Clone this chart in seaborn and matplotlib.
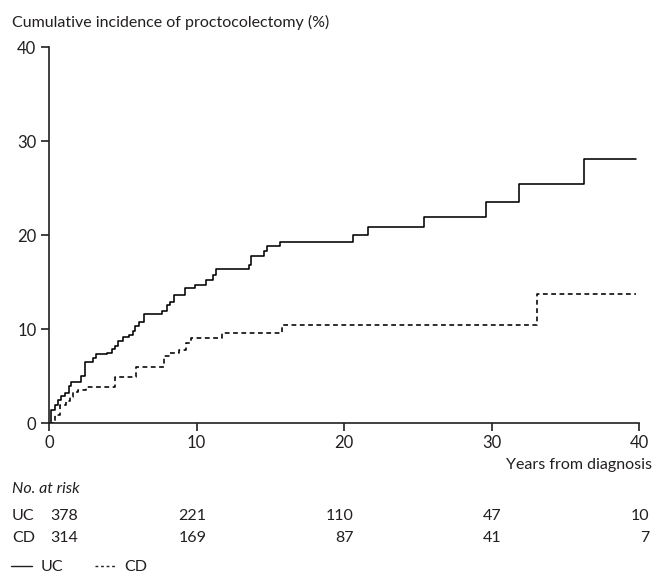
import numpy as np
import pandas as pd
import matplotlib
matplotlib.use("Agg")
import matplotlib.pyplot as plt
import matplotlib.transforms as mtransforms
from matplotlib.lines import Line2D
import seaborn as sns

# ---- data ----
uc_time = [0, 0.16, 0.39, 0.61, 0.84, 1.07, 1.36, 1.52, 2.2, 2.45, 2.95, 3.2, 3.95, 4.25, 4.5,
           4.7, 5.0, 5.4, 5.7, 5.85, 6.1, 6.45, 7.65, 8.0, 8.2, 8.5, 9.2, 9.9, 10.67, 11.12,
           11.35, 13.56, 13.7, 14.55, 14.78, 15.69, 20.6, 21.6, 25.4, 29.65, 31.86, 36.25, 39.8]
uc_inc = [0, 1.4, 1.95, 2.5, 2.9, 3.2, 3.9, 4.4, 5.0, 6.45, 6.9, 7.3, 7.5, 7.9, 8.2,
          8.7, 9.2, 9.4, 9.75, 10.3, 10.7, 11.6, 11.9, 12.6, 12.9, 13.6, 14.4, 14.7, 15.25, 15.7,
          16.4, 16.8, 17.8, 18.25, 18.86, 19.3, 20.0, 20.8, 21.9, 23.5, 25.4, 28.1, 28.1]
cd_time = [0, 0.39, 0.73, 1.18, 1.4, 1.63, 1.97, 2.53, 4.45, 5.93, 7.8, 8.2, 8.8, 9.3, 9.6,
           11.7, 15.8, 33.1, 39.8]
cd_inc = [0, 0.9, 1.95, 2.3, 2.8, 3.25, 3.5, 3.8, 4.85, 6.0, 7.1, 7.4, 7.8, 8.5, 9.0,
          9.6, 10.46, 13.75, 13.75]

groups = ["UC", "CD"]
risk_times = [0, 10, 20, 30, 40]
uc_risk = [378, 221, 110, 47, 10]
cd_risk = [314, 169, 87, 41, 7]
ticks = [0, 10, 20, 30, 40]

df = pd.concat([
    pd.DataFrame({"time": uc_time, "inc": uc_inc, "group": "UC"}),
    pd.DataFrame({"time": cd_time, "inc": cd_inc, "group": "CD"}),
], ignore_index=True)

sns.set_theme(style="ticks")
plt.rcParams["font.family"] = ["Lato", "DejaVu Sans"]
FS = 11.5
TC = "#231f20"

W, H = 653, 585
fig = plt.figure(figsize=(W / 100, H / 100), dpi=100)
ax = fig.add_axes([49 / W, 1 - 423 / H, (639 - 49) / W, (423 - 47) / H])

sns.lineplot(data=df, x="time", y="inc", style="group", style_order=groups,
             dashes={"UC": "", "CD": (3.0, 2.2)}, color="black", linewidth=1.15,
             drawstyle="steps-post", estimator=None, ax=ax, legend=False)

ax.set_xlim(0, 40)
ax.set_ylim(0, 40)
ax.set_xticks(ticks)
ax.set_yticks(ticks)
ax.set_xlabel("")
ax.set_ylabel("")
for s in ["top", "right"]:
    ax.spines[s].set_visible(False)
for s in ["left", "bottom"]:
    ax.spines[s].set_color(TC)
    ax.spines[s].set_linewidth(1.2)
ax.tick_params(axis="both", direction="out", length=6, width=1.2, color=TC,
               labelsize=FS + 0.5, labelcolor=TC, pad=3)

# titles
fig.text(12 / W, 1 - 22 / H, "Cumulative incidence of proctocolectomy (%)",
         ha="left", va="center", fontsize=FS, color=TC)
fig.text(652 / W, 1 - 465 / H, "Years from diagnosis", ha="right", va="center",
         fontsize=FS, color=TC)

# risk table
fig.text(12 / W, 1 - 489 / H, "No. at risk", ha="left", va="center",
         fontsize=FS, style="italic", color=TC)
trans = mtransforms.blended_transform_factory(ax.transData, fig.transFigure)
for lab, vals, ypx in [("UC", uc_risk, 516), ("CD", cd_risk, 538)]:
    fig.text(12 / W, 1 - ypx / H, lab, ha="left", va="center",
             fontsize=FS, color=TC)
    for i, (t, v) in enumerate(zip(risk_times, vals)):
        off = 29 if i == 0 else 10
        tr = trans + mtransforms.ScaledTranslation(off / 100, 0, fig.dpi_scale_trans)
        ax.text(t, 1 - ypx / H, str(v), transform=tr, ha="right", va="center",
                fontsize=FS, color=TC)

# legend
handles = [Line2D([0], [0], color=TC, lw=1.0),
           Line2D([0], [0], color=TC, lw=1.0, dashes=(2.0, 2.0))]
fig.legend(handles, groups, loc="center left", bbox_to_anchor=(11 / W, 1 - 567 / H),
           ncol=2, frameon=False, fontsize=FS, handlelength=1.3,
           handletextpad=0.55, columnspacing=2.0, borderaxespad=0, borderpad=0,
           labelcolor=TC)

fig.savefig("out.png", dpi=100)
